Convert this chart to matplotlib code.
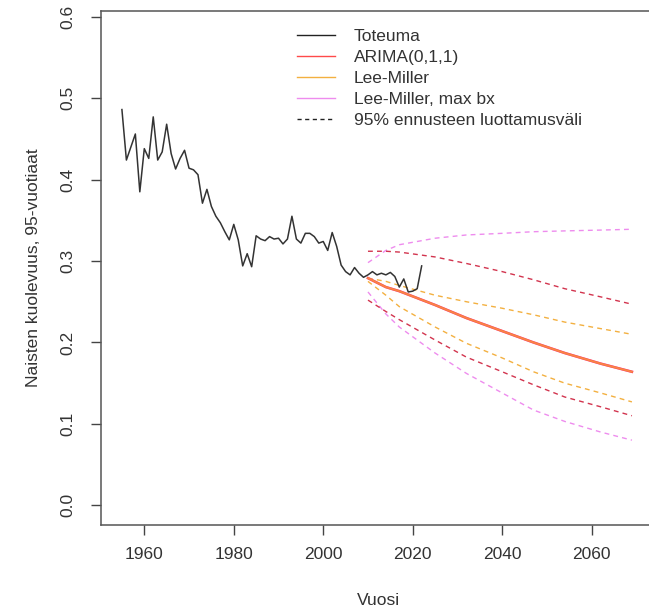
import matplotlib
matplotlib.use("Agg")
import matplotlib.pyplot as plt
from matplotlib.lines import Line2D

# observed mortality, women aged 95
years = list(range(1955, 2023))
observed = [0.486, 0.424, 0.440, 0.456, 0.385, 0.438, 0.426, 0.477, 0.424, 0.434,
            0.468, 0.432, 0.413, 0.426, 0.436, 0.414, 0.412, 0.406, 0.371, 0.388,
            0.367, 0.355, 0.347, 0.336, 0.326, 0.345, 0.326, 0.294, 0.309, 0.293,
            0.331, 0.327, 0.325, 0.330, 0.327, 0.328, 0.321, 0.327, 0.355, 0.327,
            0.322, 0.334, 0.334, 0.330, 0.322, 0.324, 0.313, 0.335, 0.318, 0.295,
            0.287, 0.283, 0.292, 0.285, 0.280, 0.283, 0.287, 0.283, 0.285, 0.283,
            0.286, 0.281, 0.268, 0.278, 0.262, 0.263, 0.266, 0.294]

# forecasts
fc_years = [2010, 2014, 2017, 2025, 2032, 2040, 2047, 2054, 2062, 2069]
arima_mean = [0.279, 0.268, 0.263, 0.246, 0.230, 0.214, 0.200, 0.187, 0.174, 0.164]
arima_hi = [0.312, 0.312, 0.311, 0.305, 0.297, 0.287, 0.277, 0.266, 0.256, 0.247]
arima_lo = [0.252, 0.238, 0.228, 0.203, 0.182, 0.164, 0.148, 0.133, 0.121, 0.110]
lm_mean = [0.279, 0.268, 0.263, 0.246, 0.230, 0.214, 0.200, 0.187, 0.174, 0.164]
lm_hi = [0.279, 0.275, 0.270, 0.258, 0.250, 0.242, 0.234, 0.225, 0.217, 0.210]
lm_lo = [0.275, 0.258, 0.244, 0.219, 0.199, 0.181, 0.164, 0.150, 0.138, 0.127]
lmbx_mean = [0.279, 0.268, 0.263, 0.246, 0.230, 0.214, 0.200, 0.187, 0.174, 0.164]
lmbx_hi = [0.298, 0.313, 0.320, 0.328, 0.332, 0.334, 0.336, 0.337, 0.338, 0.339]
lmbx_lo = [0.262, 0.235, 0.219, 0.187, 0.162, 0.138, 0.117, 0.103, 0.090, 0.080]

labels = ["Toteuma", "ARIMA(0,1,1)", "Lee-Miller", "Lee-Miller, max bx",
          "95% ennusteen luottamusväli"]

RED = "#ff4a4a"
RED_D = "#d2344e"
ORANGE = "#f3b040"
VIOLET = "#ee8cee"

plt.rcParams["font.family"] = ["Liberation Sans", "DejaVu Sans"]

fig = plt.figure(figsize=(6.49, 6.15), dpi=100)
ax = fig.add_axes([0.1556, 0.1463, 0.8567, 0.8363])

dash = (3.5, 3)
ax.plot(fc_years, lmbx_hi, color=VIOLET, lw=1, dashes=dash)
ax.plot(fc_years, lmbx_lo, color=VIOLET, lw=1, dashes=dash)
ax.plot(fc_years, lm_hi, color=ORANGE, lw=1, dashes=dash)
ax.plot(fc_years, lm_lo, color=ORANGE, lw=1, dashes=dash)
ax.plot(fc_years, arima_hi, color=RED_D, lw=1, dashes=dash)
ax.plot(fc_years, arima_lo, color=RED_D, lw=1, dashes=dash)
ax.plot(fc_years, lmbx_mean, color=VIOLET, lw=1.8)
ax.plot(fc_years, arima_mean, color=RED, lw=1.8)
ax.plot(fc_years, lm_mean, color=ORANGE, lw=1.2, alpha=0.6)
ax.plot(years, observed, color="#333333", lw=1.1)

ax.set_xlim(1950.32, 2074.6)
ax.set_ylim(-0.0242, 0.6074)
ax.set_xticks([1960, 1980, 2000, 2020, 2040, 2060])
ax.set_yticks([0.0, 0.1, 0.2, 0.3, 0.4, 0.5, 0.6])
ax.set_yticklabels(["0.0", "0.1", "0.2", "0.3", "0.4", "0.5", "0.6"])
for lbl in ax.get_yticklabels():
    lbl.set_rotation(90)
    lbl.set_va("center")
ax.tick_params(axis="both", length=7.5, width=1, color="#444444",
               labelsize=12.5, labelcolor="#333333")
ax.tick_params(axis="x", pad=8)
ax.tick_params(axis="y", pad=11)
for s in ax.spines.values():
    s.set_color("#555555")
    s.set_linewidth(1.1)

ax.set_xlabel("Vuosi", fontsize=12.5, color="#333333", labelpad=23)
ax.set_ylabel("Naisten kuolevuus, 95-vuotiaat", fontsize=12.5, color="#333333",
              labelpad=14)

handles = [Line2D([], [], color="#222222", lw=1),
           Line2D([], [], color=RED, lw=1),
           Line2D([], [], color=ORANGE, lw=1),
           Line2D([], [], color=VIOLET, lw=1),
           Line2D([], [], color="#222222", lw=1, dashes=(3, 2.5))]
fig.legend(handles, labels, loc="upper left", bbox_to_anchor=(296.7 / 649, 1 - 29 / 615),
           frameon=False, fontsize=12.5, handlelength=2.2, handletextpad=1.1,
           labelspacing=0.34, borderpad=0, borderaxespad=0, labelcolor="#333333")

fig.savefig("out.png", dpi=100)
